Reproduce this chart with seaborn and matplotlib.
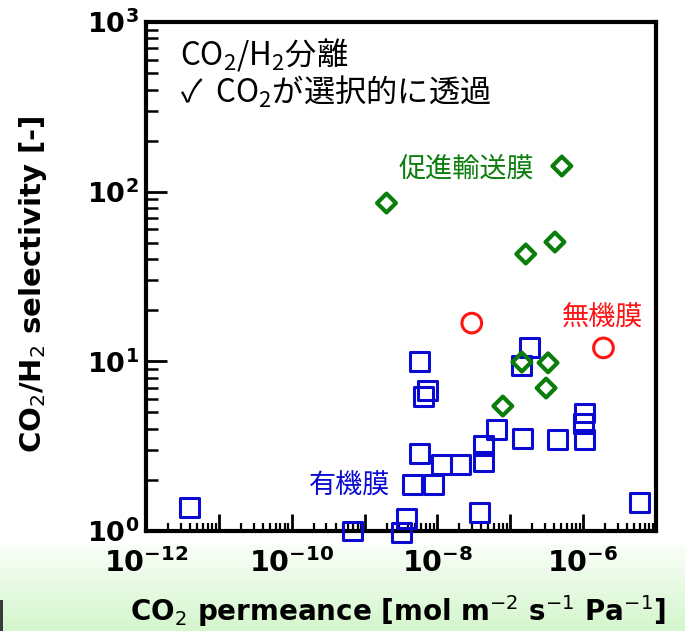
import numpy as np
import pandas as pd
import matplotlib
matplotlib.use("Agg")
import matplotlib.pyplot as plt
import seaborn as sns
from matplotlib import ticker
from matplotlib.patches import Rectangle

sns.set_theme(style="white")
plt.rcParams['font.family'] = ['DejaVu Sans']
plt.rcParams['mathtext.fontset'] = 'dejavusans'
plt.rcParams['mathtext.rm'] = 'Noto Sans CJK JP'
plt.rcParams['mathtext.it'] = 'Noto Sans CJK JP'
plt.rcParams['mathtext.bf'] = 'Noto Sans CJK JP:bold'

CJK = ['Noto Sans CJK JP', 'DejaVu Sans']

# CO2 permeance [mol m-2 s-1 Pa-1] and CO2/H2 selectivity [-]
organic_perm = [4.0e-12, 6.9e-10, 3.2e-9, 3.8e-9, 5.6e-9, 6.5e-9, 7.4e-9,
                5.7e-9, 4.6e-9, 8.7e-9, 1.15e-8, 2.1e-8, 4.3e-8, 4.3e-8,
                6.5e-8, 3.8e-8, 1.44e-7, 1.85e-7, 1.48e-7, 4.4e-7, 1.0e-6,
                1.05e-6, 1.05e-6, 6.0e-6]
organic_sel = [1.38, 1.0, 0.98, 1.18, 10.0, 6.2, 6.7,
               2.88, 1.87, 1.87, 2.48, 2.48, 3.17, 2.58,
               3.99, 1.29, 9.4, 12.1, 3.53, 3.44, 4.3,
               4.96, 3.44, 1.48]

inorganic_perm = [2.96e-8, 1.9e-6]
inorganic_sel = [16.8, 12.0]

facilitated_perm = [2.0e-9, 5.1e-7, 1.63e-7, 4.1e-7, 1.44e-7, 3.3e-7, 3.1e-7, 7.9e-8]
facilitated_sel = [85.7, 141.6, 42.9, 50.5, 9.9, 9.8, 6.96, 5.45]

BLUE = '#0a0ad2'
RED = '#ff1414'
GREEN = '#0b7d0b'

df = pd.concat([
    pd.DataFrame({'perm': organic_perm, 'sel': organic_sel, 'kind': '有機膜'}),
    pd.DataFrame({'perm': inorganic_perm, 'sel': inorganic_sel, 'kind': '無機膜'}),
    pd.DataFrame({'perm': facilitated_perm, 'sel': facilitated_sel, 'kind': '促進輸送膜'}),
], ignore_index=True)

W, H = 685, 631
fig = plt.figure(figsize=(W / 100, H / 100), dpi=100)
fig.patch.set_facecolor('white')

# pale green band behind the x-axis title
band_h = 86 / H
bg = fig.add_axes([0, 0, 1, band_h])
top_c = np.array([0.98, 0.998, 0.975])
bot_c = np.array([0.83, 0.965, 0.80])
t = np.linspace(0, 1, 256)[:, None, None]
grad = top_c * (1 - t) + bot_c * t
bg.imshow(np.repeat(grad, 4, axis=1), aspect='auto', extent=[0, 1, 0, 1], origin='upper')
bg.axis('off')
bg.set_zorder(-5)
fig.add_artist(Rectangle((0, 0), 2.5 / W, 31 / H, transform=fig.transFigure,
                         color='#3a3a3a', lw=0))

ax = fig.add_axes([146 / W, 100 / H, 510 / W, 509 / H])
ax.set_facecolor('white')

styles = {
    '有機膜': dict(marker='s', s=187, color=BLUE, lw=2.2),
    '無機膜': dict(marker='o', s=200, color=RED, lw=2.2),
    '促進輸送膜': dict(marker='D', s=92, color=GREEN, lw=3.0),
}
for kind in ['有機膜', '無機膜', '促進輸送膜']:
    st = styles[kind]
    sub = df[df['kind'] == kind]
    sns.scatterplot(data=sub, x='perm', y='sel', marker=st['marker'], s=st['s'],
                    facecolor='none', edgecolor=st['color'], linewidth=st['lw'],
                    ax=ax, zorder=3, clip_on=False, legend=False)

ax.set_xscale('log')
ax.set_yscale('log')
ax.set_xlim(1e-12, 1e-5)
ax.set_ylim(1, 1e3)

ax.xaxis.set_major_locator(ticker.LogLocator(base=10, numticks=20))
ax.xaxis.set_minor_locator(ticker.LogLocator(base=10, subs=np.arange(2, 10), numticks=20))
ax.yaxis.set_major_locator(ticker.LogLocator(base=10, numticks=20))
ax.yaxis.set_minor_locator(ticker.LogLocator(base=10, subs=np.arange(2, 10), numticks=20))


def xfmt(v, pos):
    e = int(round(np.log10(v)))
    return r'$\mathbf{10^{%d}}$' % e if e % 2 == 0 else ''


def yfmt(v, pos):
    e = int(round(np.log10(v)))
    return r'$\mathbf{10^{%d}}$' % e


ax.xaxis.set_major_formatter(ticker.FuncFormatter(xfmt))
ax.yaxis.set_major_formatter(ticker.FuncFormatter(yfmt))
ax.xaxis.set_minor_formatter(ticker.NullFormatter())
ax.yaxis.set_minor_formatter(ticker.NullFormatter())

for sp in ax.spines.values():
    sp.set_linewidth(3.0)
    sp.set_color('black')

ax.tick_params(which='both', direction='in', bottom=True, left=True, top=False,
               right=False, color='black')
ax.tick_params(axis='x', which='major', length=12.5, width=2.0, pad=12,
               labelsize=20.5, labelcolor='black')
ax.tick_params(axis='x', which='minor', length=6, width=1.6)
ax.tick_params(axis='y', which='major', length=15, width=2.0, pad=5,
               labelsize=19.5, labelcolor='black')
ax.tick_params(axis='y', which='minor', length=8.5, width=1.8)

ax.set_xlabel(r'CO$_2$ permeance [mol m$^{-2}$ s$^{-1}$ Pa$^{-1}$]',
              fontsize=20, fontweight='bold', color='black')
ax.xaxis.set_label_coords(0.494, -0.122)
ax.set_ylabel(r'CO$_2$/H$_2$ selectivity [-]', fontsize=21,
              fontweight='bold', color='black')
ax.yaxis.set_label_coords(-0.19, 0.485)

# headline text
ax.text(0.067, 0.937, r'CO$_2$/H$_2$分離', transform=ax.transAxes, fontsize=22.5,
        family=CJK, math_fontfamily='custom', ha='left', va='center', color='black')
ax.text(0.067, 0.862, r'✓  CO$_2$が選択的に透過', transform=ax.transAxes, fontsize=22.5,
        family=CJK, math_fontfamily='custom', ha='left', va='center', color='black')

# group labels
ax.text(2.5e-8, 136, '促進輸送膜', fontsize=19.5, family=CJK, color=GREEN,
        ha='center', va='center')
ax.text(1.86e-6, 18.0, '無機膜', fontsize=19.5, family=CJK, color=RED,
        ha='center', va='center')
ax.text(6.3e-10, 1.84, '有機膜', fontsize=19.5, family=CJK, color=BLUE,
        ha='center', va='center')

fig.savefig('out.png', dpi=100)
